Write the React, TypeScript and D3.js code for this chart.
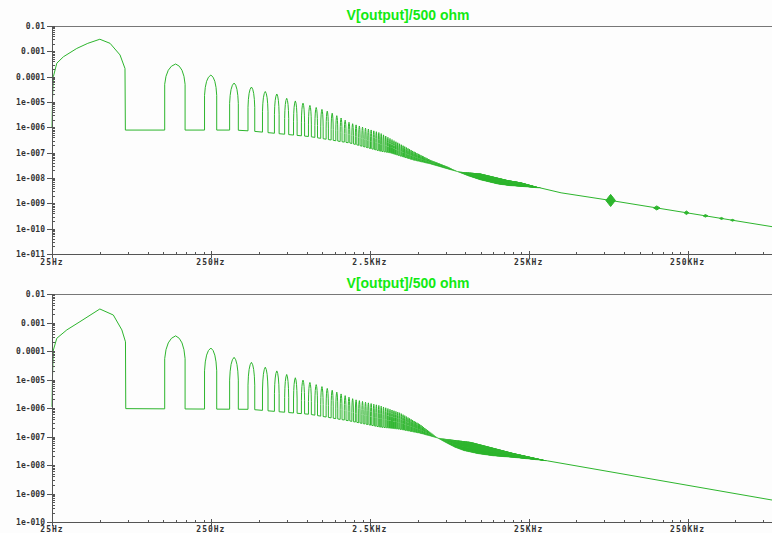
import React from 'react';
import * as d3 from 'd3';

const W = 772;
const H = 533;
const titleText = 'V[output]/500 ohm';

const xDomain: [number, number] = [25, 850000];
const xTickValues = [25, 250, 2500, 25000, 250000];
const xTickLabels = ['25Hz', '250Hz', '2.5KHz', '25KHz', '250KHz'];

const topYTickValues = [1e-2, 1e-3, 1e-4, 1e-5, 1e-6, 1e-7, 1e-8, 1e-9, 1e-10, 1e-11];
const topYTickLabels = ['0.01', '0.001', '0.0001', '1e-005', '1e-006', '1e-007', '1e-008', '1e-009', '1e-010', '1e-011'];
const bottomYTickValues = [1e-2, 1e-3, 1e-4, 1e-5, 1e-6, 1e-7, 1e-8, 1e-9, 1e-10];
const bottomYTickLabels = ['0.01', '0.001', '0.0001', '1e-005', '1e-006', '1e-007', '1e-008', '1e-009', '1e-010'];

// fundamental lobe (Hz, value)
const topLobe1: [number, number][] = [
  [25, 1e-6], [25.2, 1.5e-5], [25.5, 1e-4], [26.8, 3.4e-4], [29.5, 6.1e-4], [35.8, 1.3e-3],
  [42, 2.07e-3], [50, 3.0e-3], [58, 2.07e-3], [67, 7.2e-4], [72, 2.1e-4], [72.4, 7.8e-7],
];
const bottomLobe1: [number, number][] = [
  [25, 1.1e-6], [25.2, 1.5e-5], [25.5, 1.08e-4], [26.8, 2.8e-4], [31, 5.5e-4], [37.5, 1.07e-3],
  [50, 2.98e-3], [60.8, 1.83e-3], [68.8, 5.5e-4], [72.5, 2.1e-4], [72.8, 9.5e-7],
];

// odd-harmonic lobes: peak envelope and floor (Hz, value)
const topPeaks: [number, number][] = [
  [150, 3.16e-4], [250, 1.16e-4], [350, 5.6e-5], [450, 3.9e-5], [550, 2.6e-5], [650, 2.07e-5],
  [750, 1.4e-5], [850, 1.1e-5], [950, 9e-6], [1407, 4e-6], [1880, 1.5e-6], [2900, 6e-7],
  [4730, 1.1e-7], [6030, 5.1e-8], [7700, 2.8e-8], [8900, 1.8e-8], [12400, 1.5e-8],
  [18400, 8.2e-9], [22200, 6.7e-9], [29900, 4e-9],
];
const topFloor: [number, number][] = [
  [72, 7.8e-7], [355, 7.8e-7], [442, 7.2e-7], [1052, 4.3e-7], [1880, 2.4e-7], [2900, 1.16e-7],
  [3370, 9.8e-8], [4730, 5.1e-8], [6030, 3.6e-8], [7700, 2.3e-8], [8900, 1.8e-8], [10500, 1.2e-8],
  [12400, 8.5e-9], [16000, 5.8e-9], [19000, 5e-9], [23000, 4.6e-9], [29900, 4e-9],
];
const topTail: [number, number][] = [[29900, 4e-9], [40000, 2.6e-9], [82000, 1.3e-9], [850000, 1.2e-10]];
// resonance blobs on the tail: Hz, half height (decades), half width (decades)
const topBumpFreqs = [82000, 160000, 246000, 324000, 409000, 480000];
const topBumpHeights = [0.24, 0.08, 0.07, 0.05, 0.04, 0.035];
const topBumpWidths = [0.03, 0.02, 0.015, 0.015, 0.012, 0.012];

const bottomPeaks: [number, number][] = [
  [150, 3.4e-4], [250, 1.27e-4], [350, 6e-5], [450, 4e-5], [550, 2.7e-5], [650, 2e-5],
  [750, 1.5e-5], [850, 1.15e-5], [950, 9.5e-6], [1407, 4.5e-6], [2000, 2e-6], [2900, 1.2e-6],
  [3880, 6.7e-7], [5200, 2.6e-7], [6680, 8.9e-8], [10800, 6.4e-8], [20000, 2.6e-8], [32800, 1.4e-8],
];
const bottomFloor: [number, number][] = [
  [72, 9.5e-7], [440, 9e-7], [1050, 6e-7], [1880, 3.5e-7], [2900, 2.15e-7], [3880, 1.8e-7],
  [5200, 1.3e-7], [6680, 8.9e-8], [7600, 6e-8], [8600, 4.2e-8], [9800, 3.2e-8], [12000, 2.5e-8],
  [15000, 2.1e-8], [20000, 1.85e-8], [32800, 1.4e-8],
];
const bottomTail: [number, number][] = [[32800, 1.4e-8], [850000, 5.9e-10]];
const bottomBumpFreqs: number[] = [];
const bottomBumpHeights: number[] = [];
const bottomBumpWidths: number[] = [];

const harmonicStep = 100;
const lobeHalfWidth = 22;

const CURVE = '#2db52d';

function interpLog(pts: [number, number][], f: number): number {
  if (f <= pts[0][0]) return pts[0][1];
  for (let i = 1; i < pts.length; i++) {
    if (f <= pts[i][0]) {
      const [f0, v0] = pts[i - 1];
      const [f1, v1] = pts[i];
      const t = Math.log(f / f0) / Math.log(f1 / f0);
      return Math.exp(Math.log(v0) + t * Math.log(v1 / v0));
    }
  }
  return pts[pts.length - 1][1];
}

type PanelProps = {
  top: number;
  bottom: number;
  labelY: number;
  yTicks: number[];
  yLabels: string[];
  lobe1: [number, number][];
  peaks: [number, number][];
  floor: [number, number][];
  tail: [number, number][];
  bumpF: number[];
  bumpH: number[];
  bumpW: number[];
};

function Panel(p: PanelProps) {
  const left = 52;
  const right = W;
  const x = d3.scaleLog().domain(xDomain).range([left, right]);
  const y = d3.scaleLog().domain([p.yTicks[p.yTicks.length - 1], p.yTicks[0]]).range([p.bottom, p.top]);

  // curve path
  const path = d3.path();
  p.lobe1.forEach((d, i) => (i ? path.lineTo(x(d[0]), y(d[1])) : path.moveTo(x(d[0]), y(d[1]))));
  const lensEnd = p.tail[0][0];
  const harmonics = d3.range(150, lensEnd, harmonicStep);
  for (const fc of harmonics) {
    const fL = fc - lobeHalfWidth;
    const fR = fc + lobeHalfWidth;
    const xl = x(fL), xr = x(fR), xc = x(fc);
    const pk = interpLog(p.peaks, fc);
    const flL = interpLog(p.floor, fL);
    const flR = interpLog(p.floor, fR);
    const flC = interpLog(p.floor, fc);
    const span = Math.log10(pk) - Math.log10(flC);
    const drop = Math.min(0.8, 0.6 * Math.max(span, 0));
    const edge = Math.pow(10, Math.log10(pk) - drop);
    const ye = y(edge), yp = y(pk);
    path.lineTo(xl, y(flL));
    path.lineTo(xl, ye);
    path.quadraticCurveTo(xl + (xc - xl) * 0.15, yp + (ye - yp) * 0.12, xc, yp);
    path.quadraticCurveTo(xr - (xr - xc) * 0.15, yp + (ye - yp) * 0.12, xr, ye);
    path.lineTo(xr, y(flR));
  }
  p.tail.forEach((d) => path.lineTo(x(d[0]), y(d[1])));

  const bumps = p.bumpF.map((f, i) => {
    const base = interpLog(p.tail, f);
    const h = Math.pow(10, p.bumpH[i]);
    const w = Math.pow(10, p.bumpW[i]);
    return `M${x(f / w)},${y(base)}L${x(f)},${y(base * h)}L${x(f * w)},${y(base)}L${x(f)},${y(base / h)}Z`;
  });

  // ticks
  const minorY: number[] = [];
  p.yTicks.slice(1).forEach((d) => {
    for (let k = 2; k <= 9; k++) minorY.push(d * k);
  });
  const minorX: number[] = [];
  xTickValues.forEach((d) => {
    for (let k = 2; k <= 9; k++) if (d * k <= xDomain[1]) minorX.push(d * k);
  });

  const axisColor = '#555';
  return (
    <g>
      <text x={408} y={p.top - 6.5} textAnchor="middle" fontFamily="Liberation Sans, Arial, sans-serif"
        fontWeight="bold" fontSize={14} fill="#12ea12">{titleText}</text>
      <line x1={left} x2={right} y1={p.top + 0.5} y2={p.top + 0.5} stroke="#777" strokeWidth={1} />
      <path d={path.toString()} fill="none" stroke={CURVE} strokeWidth={1} strokeLinejoin="round" />
      {bumps.map((d, i) => (
        <path key={i} d={d} fill={CURVE} stroke={CURVE} strokeWidth={1} />
      ))}
      <line x1={left + 0.5} x2={left + 0.5} y1={p.top} y2={p.bottom} stroke={axisColor} strokeWidth={1} />
      <line x1={left} x2={right} y1={p.bottom + 0.5} y2={p.bottom + 0.5} stroke={axisColor} strokeWidth={1} />
      {minorY.map((v, i) => (
        <line key={'my' + i} x1={left} x2={left + 3} y1={Math.round(y(v)) + 0.5} y2={Math.round(y(v)) + 0.5} stroke={axisColor} />
      ))}
      {p.yTicks.map((v, i) => (
        <g key={'y' + i}>
          <line x1={left - 5} x2={left + 3} y1={Math.round(y(v)) + 0.5} y2={Math.round(y(v)) + 0.5} stroke={axisColor} />
          <text x={45} y={y(v) + 3} textAnchor="end" fontFamily="DejaVu Sans Mono, monospace" fontWeight="bold"
            fontSize={8} fill="#333">{p.yLabels[i]}</text>
        </g>
      ))}
      {minorX.map((v, i) => (
        <line key={'mx' + i} x1={Math.round(x(v)) + 0.5} x2={Math.round(x(v)) + 0.5} y1={p.bottom - 2} y2={p.bottom + 1} stroke={axisColor} />
      ))}
      {xTickValues.map((v, i) => (
        <g key={'x' + i}>
          <line x1={Math.round(x(v)) + 0.5} x2={Math.round(x(v)) + 0.5} y1={p.bottom - 3} y2={p.bottom + 4} stroke={axisColor} />
          <text x={x(v)} y={p.labelY} textAnchor="middle" fontFamily="DejaVu Sans Mono, monospace" fontWeight="bold"
            fontSize={8} letterSpacing={1} fill="#333">{xTickLabels[i]}</text>
        </g>
      ))}
    </g>
  );
}

export default function App() {
  return (
    <svg width={W} height={H} style={{ position: 'absolute', left: 0, top: 0, display: 'block' }}>
      <rect x={0} y={0} width={W} height={H} fill="#fdfdfd" />
      <Panel top={26} bottom={254} labelY={265} yTicks={topYTickValues} yLabels={topYTickLabels} lobe1={topLobe1}
        peaks={topPeaks} floor={topFloor} tail={topTail} bumpF={topBumpFreqs} bumpH={topBumpHeights} bumpW={topBumpWidths} />
      <Panel top={294} bottom={522} labelY={531.5} yTicks={bottomYTickValues} yLabels={bottomYTickLabels} lobe1={bottomLobe1}
        peaks={bottomPeaks} floor={bottomFloor} tail={bottomTail} bumpF={bottomBumpFreqs} bumpH={bottomBumpHeights} bumpW={bottomBumpWidths} />
    </svg>
  );
}
